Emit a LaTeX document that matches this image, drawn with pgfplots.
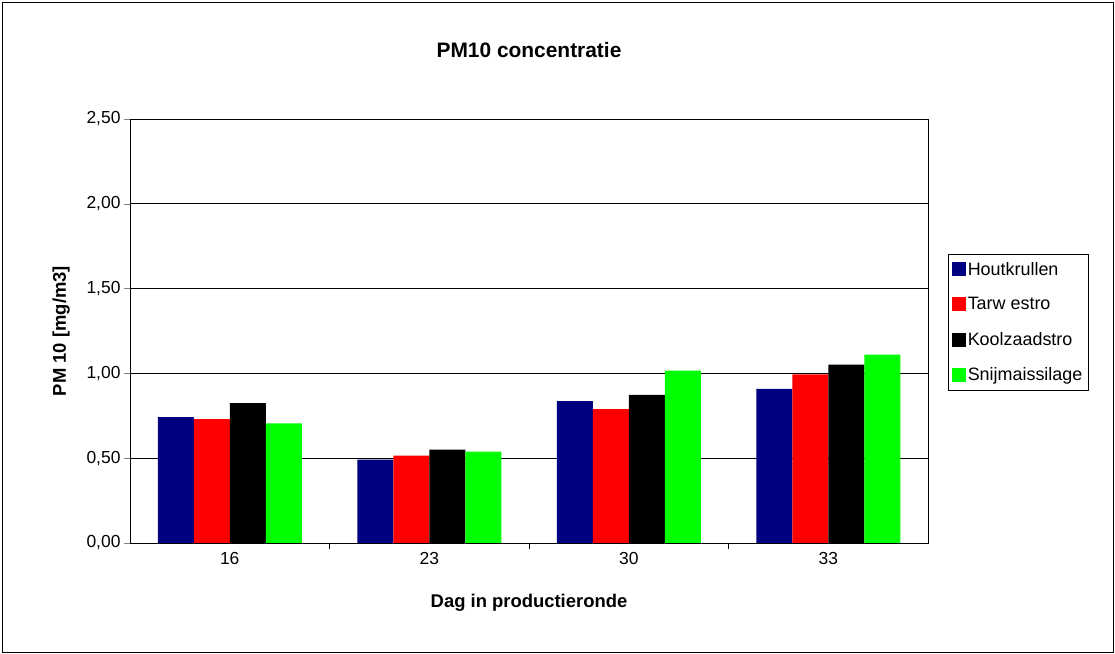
\documentclass[border=0pt]{standalone}
\usepackage{pgfplots}
\pgfplotsset{compat=1.18}
\usepackage{fontspec}
\setmainfont{Liberation Sans}
\definecolor{cnavy}{RGB}{0,0,128}
\begin{document}
\begin{tikzpicture}[x=1bp,y=1bp]
\draw[black,line width=0.8bp] (2,2) rectangle (1113,652);
\path[use as bounding box] (0,0) rectangle (1115,654);
\begin{axis}[at={(130bp,111bp)},anchor=south west,
 scale only axis, width=798bp, height=424bp,
 ybar=0pt, bar width=36bp, ymin=0, ymax=2.5, xmin=-0.5, xmax=3.5,
 xtick=data, xticklabels={16,23,30,33}, major x tick style={draw=none},
 extra x ticks={0.5,1.5,2.5}, extra x tick labels={},
 extra x tick style={major tick length=6bp, tick align=outside, tick pos=left, major x tick style={draw=black}},
 ytick={0,0.5,...,2.5}, ymajorgrids, grid style={black,line width=0.6bp},
 y tick label style={/pgf/number format/.cd,fixed,fixed zerofill,precision=2,use comma},
 /pgf/number format/assume math mode=true,
 tick align=outside, tick pos=left, major tick length=6bp,
 ticklabel style={font=\fontsize{17.5}{20}\selectfont},
 axis line style={black,line width=0.8bp},
 title={\bfseries PM10 concentratie}, title style={font=\fontsize{21}{24}\selectfont, yshift=52bp},
 xlabel={\bfseries Dag in productieronde}, xlabel style={font=\fontsize{18.5}{21}\selectfont, yshift=-10bp},
 ylabel={\bfseries PM 10 [mg/m3]}, ylabel style={font=\fontsize{18.5}{21}\selectfont, yshift=10bp},
 legend style={at={(1.0245,0.682)},anchor=north west, draw=black, font=\fontsize{18}{20}\selectfont,
   row sep=17bp, inner xsep=4bp, inner ysep=6bp, legend cell align=left,
   /tikz/every odd column/.style={xshift=1bp}},
 legend image code/.code={\fill[#1] (0,-7bp) rectangle (14bp,7bp);},
]
\addplot[fill=cnavy,draw=none] coordinates {(0,0.742) (1,0.491) (2,0.837) (3,0.909)};
\addplot[fill=red,draw=none] coordinates {(0,0.730) (1,0.515) (2,0.789) (3,0.994)};
\addplot[fill=black,draw=none] coordinates {(0,0.825) (1,0.551) (2,0.873) (3,1.052)};
\addplot[fill=green,draw=none] coordinates {(0,0.706) (1,0.539) (2,1.016) (3,1.111)};
\legend{Houtkrullen,Tarw estro,Koolzaadstro,Snijmaissilage}
\end{axis}
\end{tikzpicture}
\end{document}
